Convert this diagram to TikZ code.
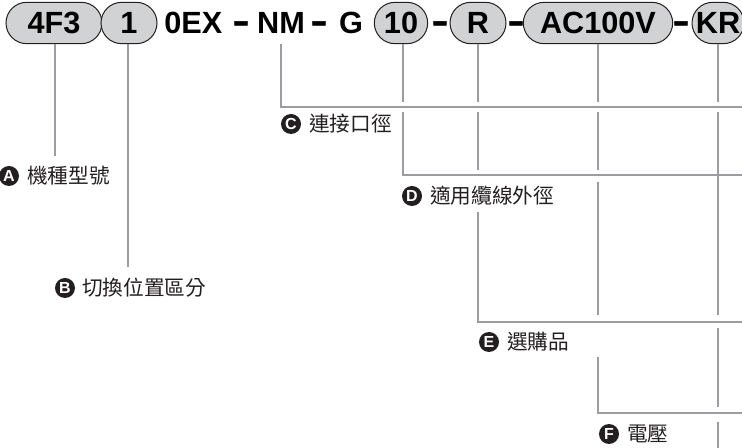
\documentclass[tikz,border=0pt]{standalone}
\usepackage{fontspec}
\setmainfont{Liberation Sans}
\newfontfamily\cjk{Noto Sans CJK TC}
\newfontfamily\dashfont[FakeStretch=1.5,FakeBold=1.5]{Liberation Sans Bold}
\usetikzlibrary{shapes.misc}

\definecolor{pillgray}{HTML}{D1D2D4}
\definecolor{linegray}{HTML}{9C9DA0}
\definecolor{inkblack}{HTML}{231F20}

\tikzset{
  pill/.style={rounded rectangle, draw=inkblack, line width=0.75pt, fill=pillgray,
    minimum height=31pt, inner sep=0pt, font=\fontsize{23}{23}\selectfont\bfseries},
  code/.style={inner sep=0pt, anchor=base, font=\fontsize{23}{23}\selectfont\bfseries},
  bardash/.style={inner sep=0pt, anchor=base, font=\fontsize{25}{25}\dashfont},
  conn/.style={draw=linegray, line width=1.5pt},
  badge/.style={circle, fill=inkblack, text=white, minimum size=15pt, inner sep=0pt,
    font=\fontsize{12}{12}\selectfont\bfseries},
  lbl/.style={anchor=west, inner sep=0pt, text=inkblack,
    font=\fontsize{15.5}{15.5}\selectfont\cjk},
}

\begin{document}
\begin{tikzpicture}[x=0.75pt, y=-0.75pt]

    \useasboundingbox (0,0) rectangle (742,448);

    % model code
    \node[pill, minimum width=72pt] (p4F3) at (54,23) {4F3};
    \node[pill, minimum width=42pt] (p1) at (129,23) {1};
    \node[code, anchor=base west] (t0EX) at (164,34) {0EX};
    \node[bardash] (d1) at (241,32) {-};
    \node[code] (tNM) at (281,34) {NM};
    \node[bardash] (d2) at (319,32) {-};
    \node[code] (tG) at (351,34) {G};
    \node[pill, minimum width=40pt] (p10) at (401,23) {10};
    \node[bardash] (d3) at (440,32) {-};
    \node[pill, minimum width=42pt] (pR) at (478,23) {R};
    \node[bardash] (d4) at (516,32) {-};
    \node[pill, minimum width=112pt] (pAC) at (598,23) {AC100V};
    \node[bardash] (d5) at (681,32) {-};
    \node[pill, minimum width=39pt] (pKR) at (718,23) {KR};

    % labels
    \node[badge] (bA) at (9,176) {A};
    \node[lbl] (lA) at (27,176) {機種型號};
    \node[badge] (bB) at (65,288) {B};
    \node[lbl] (lB) at (82,288) {切換位置區分};
    \node[badge] (bC) at (291,124) {C};
    \node[lbl] (lC) at (309,124) {連接口徑};
    \node[badge] (bD) at (412,196) {D};
    \node[lbl] (lD) at (430,196) {適用纜線外徑};
    \node[badge] (bE) at (489,342) {E};
    \node[lbl] (lE) at (507,342) {選購品};
    \node[badge] (bF) at (609,434) {F};
    \node[lbl] (lF) at (627,434) {電壓};

    % corners and free ends
    \coordinate (aEnd) at (55,156);
    \coordinate (bEnd) at (128,267);
    \coordinate (cCorner) at (281,107);
    \coordinate (cEnd) at (742,107);
    \coordinate (dCorner) at (403,175);
    \coordinate (dEnd) at (742,175);
    \coordinate (eCorner) at (478,322);
    \coordinate (eEnd) at (742,322);
    \coordinate (fCorner) at (598,413);
    \coordinate (fEnd) at (742,413);
    \coordinate (gEnd) at (718,448);

    % leader lines
    \draw[conn] (p4F3.south -| aEnd) -- (aEnd);
    \draw[conn] (p1.south -| bEnd) -- (bEnd);
    \draw[conn] (tNM.south |- p1.south) -- (cCorner) -- (cEnd);
    \draw[conn] (p10.south -| dCorner) -- (403,102) (403,112) -- (dCorner) -- (dEnd);
    \draw[conn] (pR.south -| eCorner) -- (478,102) (478,112) -- (478,170)
        (478,212) -- (eCorner) -- (eEnd);
    \draw[conn] (pAC.south -| fCorner) -- (598,102) (598,112) -- (598,170)
        (598,182) -- (598,315) (598,357) -- (fCorner) -- (fEnd);
    \draw[conn] (pKR.south) -- (718,102) (718,112) -- (718,315)
        (718,328) -- (718,407) (718,422) -- (gEnd);

\end{tikzpicture}
\end{document}
